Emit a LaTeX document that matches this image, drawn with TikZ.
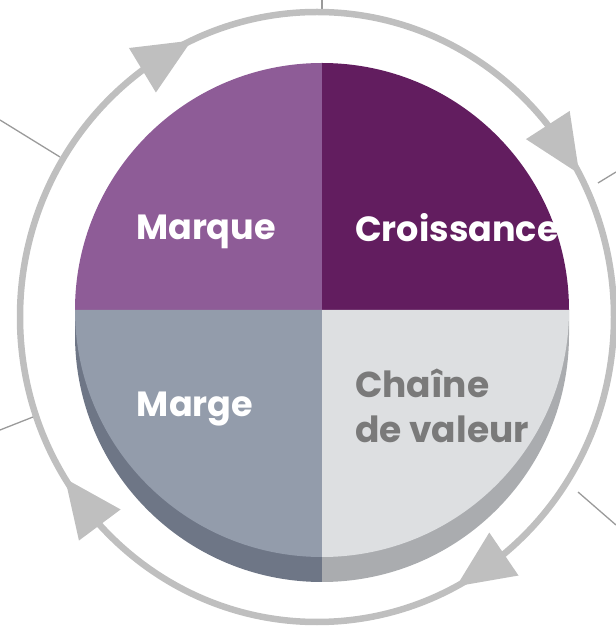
\documentclass[tikz,border=0pt]{standalone}
\usepackage{fontspec}
\setmainfont{Poppins}
\usetikzlibrary{calc}
\definecolor{cMarque}{HTML}{8E5C97}
\definecolor{cCroiss}{HTML}{621D5F}
\definecolor{cMarge}{HTML}{939CAB}
\definecolor{cChaine}{HTML}{DDDFE1}
\definecolor{cSideL}{HTML}{6E7686}
\definecolor{cSideR}{HTML}{AAACAF}
\definecolor{cChaineTxt}{HTML}{7A7A7A}
\definecolor{cRing}{HTML}{BFBFBF}
\definecolor{cLead}{HTML}{9A9A9A}
\begin{document}
\begin{tikzpicture}[x=1pt,y=1pt,
  ringline/.style={draw=cRing,line width=6.5pt},
  ringhead/.style={fill=cRing},
  leader/.style={draw=cLead,line width=1.3pt},
  label/.style={font=\bfseries\fontsize{35}{42}\selectfont,inner sep=0pt,anchor=base},
  whitelabel/.style={label,text=white},
  greylabel/.style={label,text=cChaineTxt,anchor=base west,font=\bfseries\fontsize{36}{42}\selectfont}]
\useasboundingbox (0,0) rectangle (616,630);
\coordinate (rc) at (317,313);
\coordinate (pc) at (322,320);

% leader lines running out of the picture
\coordinate (top0) at (322,618);  \coordinate (top1) at (322,630);
\coordinate (ul0) at (60,473);    \coordinate (ul1) at (0,510);
\coordinate (ur0) at (598,447);   \coordinate (ur1) at (616,458);
\coordinate (ll0) at (33,213);    \coordinate (ll1) at (0,200);
\coordinate (lr0) at (578,138);   \coordinate (lr1) at (616,105);
\draw[leader] (top0) -- (top1);
\draw[leader] (ul0) -- (ul1);
\draw[leader] (ur0) -- (ur1);
\draw[leader] (ll0) -- (ll1);
\draw[leader] (lr0) -- (lr1);

% cycle ring
\draw[ringline] (rc) ellipse [x radius=297, y radius=305];
\foreach \t/\n in {115/a, 28/b, -62/c, 212/d}{
  \coordinate (tip\n) at ([shift={(rc)}]\t:297pt and 305pt);
  \coordinate (base\n) at ([shift={(rc)}]\t+11:297pt and 305pt);
  \fill[ringhead] ($(base\n)!26pt!90:(tip\n)$) -- (tip\n) -- ($(base\n)!26pt!-90:(tip\n)$) -- cycle;
}

% pie thickness
\fill[cSideL] (322,320) -- (75,320) -- (75,295) arc[start angle=180,end angle=270,radius=247] -- cycle;
\fill[cSideR] (322,320) -- (569,320) -- (569,295) arc[start angle=0,end angle=-90,radius=247] -- cycle;

% pie top face
\fill[cMarque] (pc) -- ++(0,247) arc[start angle=90,end angle=180,radius=247] -- cycle;
\fill[cCroiss] (pc) -- ++(247,0) arc[start angle=0,end angle=90,radius=247] -- cycle;
\fill[cMarge] (pc) -- ++(-247,0) arc[start angle=180,end angle=270,radius=247] -- cycle;
\fill[cChaine] (pc) -- ++(0,-247) arc[start angle=270,end angle=360,radius=247] -- cycle;

% quadrant labels
\node[whitelabel] (marque) at (206,390) {Marque};
\node[whitelabel] (croissance) at (457,388) {Croissance};
\node[whitelabel] (marge) at (195,213) {Marge};
\node[greylabel] (chaine) at (355,232) {Chaîne};
\node[greylabel] (valeur) at (355,187) {de valeur};
\end{tikzpicture}
\end{document}
